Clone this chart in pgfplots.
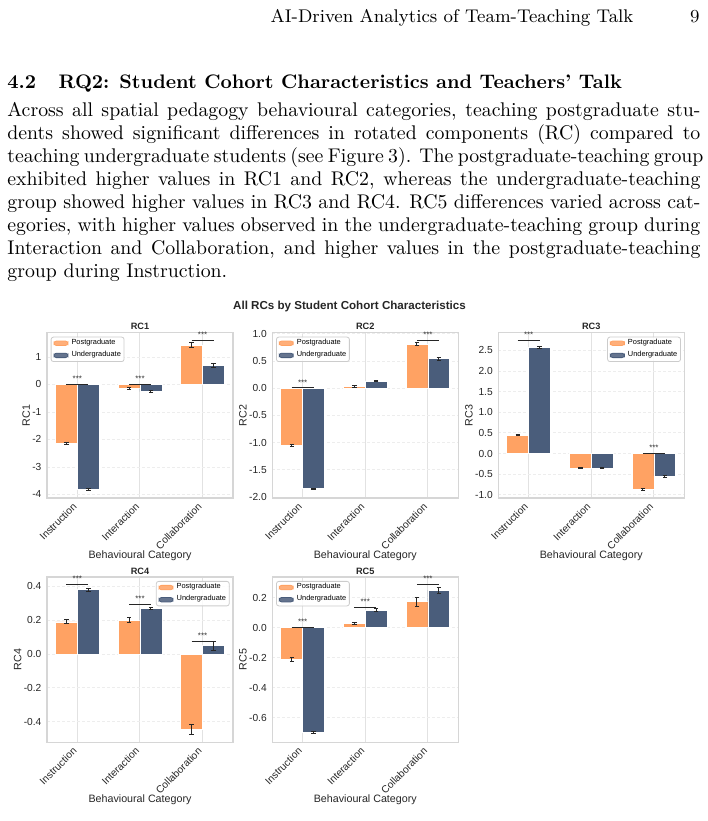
\documentclass[border=0pt]{standalone}
\usepackage{fontspec}
\usepackage{pgfplots}
\pgfplotsset{compat=1.18}

\newfontfamily\cf{Liberation Sans}

\definecolor{pgcol}{HTML}{FFA263}
\definecolor{ugcol}{HTML}{4A5D7B}
\definecolor{framecol}{HTML}{D6D6D6}
\definecolor{gridx}{HTML}{E2E2E2}
\definecolor{gridy}{HTML}{EDEDED}
\definecolor{labcol}{HTML}{262626}

% significance bracket: left x, right x, centre x, height
\newcommand\sig[4]{%
  \draw[black!85, line width=0.5pt] (axis cs:#1,#4) -- (axis cs:#2,#4);
  \node[font=\cf\fontsize{4}{4.8}\selectfont, anchor=base, inner sep=0pt,
        yshift=1.3pt, text=black!80] at (axis cs:#3,#4) {***};}

\pgfplotsset{
  rcpanel/.style={
    scale only axis, width=93pt, height=82.65pt,
    anchor=south west,
    ybar, bar width=0.35,
    xmin=-0.485, xmax=2.485,
    xtick={0,1,2},
    xticklabels={Instruction,Interaction,Collaboration},
    xmajorgrids, ymajorgrids,
    x grid style={color=gridx, line width=0.5pt},
    y grid style={color=gridy, line width=0.4pt, dash pattern=on 1.5pt off 1pt},
    axis line style={draw=framecol, line width=0.6pt},
    major tick length=0pt,
    tick label style={font=\cf\fontsize{5.1}{6}\selectfont, text=labcol},
    xticklabel style={xshift=-1.2pt, yshift=-3.4pt, rotate=45, anchor=east, inner sep=0pt},
    yticklabel style={anchor=east, inner sep=0pt, xshift=-2.6pt},
    xlabel={Behavioural Category},
    label style={font=\cf\fontsize{5.35}{6.4}\selectfont, text=labcol},
    xlabel style={at={(axis description cs:0.5,-0.35)}, anchor=center},
    ylabel style={inner xsep=0pt, inner ysep=1pt},
    every axis title/.style={font=\cf\bfseries\fontsize{4.6}{5.5}\selectfont,
                 at={(axis description cs:0.5,1)}, anchor=base, yshift=1.5pt,
                 inner sep=0pt, text=labcol},
    legend cell align=left,
    legend style={font=\cf\fontsize{3.7}{4.4}\selectfont, draw=black!20,
                  line width=0.4pt, rounded corners=1.2pt, fill=white,
                  fill opacity=0.85, text opacity=1, inner xsep=1.2pt,
                  inner ysep=0.6pt, row sep=1.1pt, column sep=1.2pt,
                  nodes={inner sep=0.4pt}},
    clip=false,
  },
  legUL/.style={legend style={at={(0.02,0.976)}, anchor=north west}},
  legUR/.style={legend style={at={(0.982,0.976)}, anchor=north east}},
  pgbar/.style={fill=pgcol, draw=white, line width=0.4pt, bar shift=-0.175,
    /pgfplots/error bars/y dir=both, /pgfplots/error bars/y explicit,
    /pgfplots/error bars/error bar style={black!85, line width=0.5pt},
    /pgfplots/error bars/error mark options={rotate=90, mark size=1.1pt, black!85, line width=0.5pt},
    legend image code/.code={\fill[pgcol] (0pt,-1.1pt) rectangle (7pt,1.1pt);}},
  ugbar/.style={fill=ugcol, draw=white, line width=0.4pt, bar shift=0.175,
    /pgfplots/error bars/y dir=both, /pgfplots/error bars/y explicit,
    /pgfplots/error bars/error bar style={black!85, line width=0.5pt},
    /pgfplots/error bars/error mark options={rotate=90, mark size=1.1pt, black!85, line width=0.5pt},
    legend image code/.code={\fill[ugcol] (0pt,-1.1pt) rectangle (7pt,1.1pt);}},
}

% body text is set at 10pt on a 350pt measure, then scaled to the page
\newcommand\bodyline[2]{\node[anchor=base west, inner sep=0pt, scale=0.99,
  font=\fontsize{10}{12}\selectfont]
  at (3.5pt,-#1pt) {\makebox[350pt][s]{#2}};}

\begin{document}
\begin{tikzpicture}
\path[use as bounding box] (0,0) rectangle (354pt,-410.5pt);

% running head
\node[anchor=base east, inner sep=0pt, scale=1.02, font=\fontsize{9}{11}\selectfont]
  at (316.9pt,-11pt) {AI-Driven Analytics of Team-Teaching Talk};
\node[anchor=base east, inner sep=0pt, scale=1.02, font=\fontsize{9}{11}\selectfont]
  at (350pt,-11pt) {9};

% section heading
\node[anchor=base west, inner sep=0pt, scale=0.98, font=\fontsize{10}{12}\selectfont\bfseries]
  at (3.5pt,-44pt) {4.2\hspace{11.5pt}RQ2: Student Cohort Characteristics and Teachers' Talk};

% paragraph
\bodyline{58}{Across all spatial pedagogy behavioural categories, teaching postgraduate stu-}
\bodyline{69.5}{dents showed significant differences in rotated components (RC) compared to}
\bodyline{81}{teaching undergraduate students (see Figure 3). The postgraduate-teaching group}
\bodyline{92.5}{exhibited higher values in RC1 and RC2, whereas the undergraduate-teaching}
\bodyline{104}{group showed higher values in RC3 and RC4. RC5 differences varied across cat-}
\bodyline{115.5}{egories, with higher values observed in the undergraduate-teaching group during}
\bodyline{127}{Interaction and Collaboration, and higher values in the postgraduate-teaching}
\node[anchor=base west, inner sep=0pt, scale=0.99, font=\fontsize{10}{12}\selectfont]
  at (3.5pt,-138.5pt) {group during Instruction.};

% figure title
\node[font=\cf\bfseries\fontsize{5.8}{7}\selectfont, text=labcol] at (174.75pt,-153pt)
  {All RCs by Student Cohort Characteristics};

% ---------------- RC1 ----------------
\begin{axis}[rcpanel, legUL, at={(23.5pt,-249pt)},
  title={RC1}, ylabel={RC1},
  ymin=-4.13, ymax=1.88,
  ytick={-4,-3,-2,-1,0,1}, yticklabels={-4,-3,-2,-1,0,1}]
\addplot[pgbar] coordinates {(0,-2.16) +- (0,0.03) (1,-0.14) +- (0,0.035) (2,1.43) +- (0,0.08)};
\addplot[ugbar] coordinates {(0,-3.82) +- (0,0.03) (1,-0.26) +- (0,0.03) (2,0.68) +- (0,0.07)};
\legend{Postgraduate,Undergraduate}
\sig{-0.175}{0.175}{0}{0.01}
\sig{0.825}{1.175}{1}{0.01}
\sig{1.825}{2.175}{2}{1.6}
\end{axis}

% ---------------- RC2 ----------------
\begin{axis}[rcpanel, legUL, at={(136.15pt,-249pt)},
  title={RC2}, ylabel={RC2},
  ymin=-2.02, ymax=1.02,
  ytick={-2,-1.5,-1,-0.5,0,0.5,1}, yticklabels={-2.0,-1.5,-1.0,-0.5,0.0,0.5,1.0}]
\addplot[pgbar] coordinates {(0,-1.06) +- (0,0.015) (1,0.03) +- (0,0.012) (2,0.81) +- (0,0.025)};
\addplot[ugbar] coordinates {(0,-1.85) +- (0,0.012) (1,0.13) +- (0,0.012) (2,0.54) +- (0,0.025)};
\legend{Postgraduate,Undergraduate}
\sig{-0.175}{0.175}{0}{0.005}
\sig{1.825}{2.175}{2}{0.88}
\end{axis}

% ---------------- RC3 ----------------
\begin{axis}[rcpanel, legUR, at={(249.15pt,-249pt)},
  title={RC3}, ylabel={RC3},
  ymin=-1.08, ymax=2.93,
  ytick={-1,-0.5,0,0.5,1,1.5,2,2.5}, yticklabels={-1.0,-0.5,0.0,0.5,1.0,1.5,2.0,2.5}]
\addplot[pgbar] coordinates {(0,0.44) +- (0,0.012) (1,-0.35) +- (0,0.012) (2,-0.87) +- (0,0.03)};
\addplot[ugbar] coordinates {(0,2.57) +- (0,0.03) (1,-0.36) +- (0,0.012) (2,-0.55) +- (0,0.025)};
\legend{Postgraduate,Undergraduate}
\sig{-0.175}{0.175}{0}{2.74}
\sig{1.825}{2.175}{2}{0.01}
\end{axis}

% ---------------- RC4 ----------------
\begin{axis}[rcpanel, legUR, at={(23.5pt,-371.15pt)},
  title={RC4}, ylabel={RC4},
  ymin=-0.523, ymax=0.456,
  ytick={-0.4,-0.2,0,0.2,0.4}, yticklabels={-0.4,-0.2,0.0,0.2,0.4}]
\addplot[pgbar] coordinates {(0,0.19) +- (0,0.012) (1,0.20) +- (0,0.015) (2,-0.445) +- (0,0.03)};
\addplot[ugbar] coordinates {(0,0.38) +- (0,0.008) (1,0.27) +- (0,0.008) (2,0.048) +- (0,0.026)};
\legend{Postgraduate,Undergraduate}
\sig{-0.175}{0.175}{0}{0.413}
\sig{0.825}{1.175}{1}{0.296}
\sig{1.825}{2.175}{2}{0.077}
\end{axis}

% ---------------- RC5 ----------------
\begin{axis}[rcpanel, legUL, at={(136.15pt,-371.15pt)},
  title={RC5}, ylabel={RC5},
  ymin=-0.764, ymax=0.338,
  ytick={-0.6,-0.4,-0.2,0,0.2}, yticklabels={-0.6,-0.4,-0.2,0.0,0.2}]
\addplot[pgbar] coordinates {(0,-0.21) +- (0,0.012) (1,0.03) +- (0,0.008) (2,0.173) +- (0,0.03)};
\addplot[ugbar] coordinates {(0,-0.70) +- (0,0.008) (1,0.118) +- (0,0.01) (2,0.25) +- (0,0.02)};
\legend{Postgraduate,Undergraduate}
\sig{-0.175}{0.175}{0}{0.003}
\sig{0.825}{1.175}{1}{0.136}
\sig{1.825}{2.175}{2}{0.29}
\end{axis}
\end{tikzpicture}
\end{document}
